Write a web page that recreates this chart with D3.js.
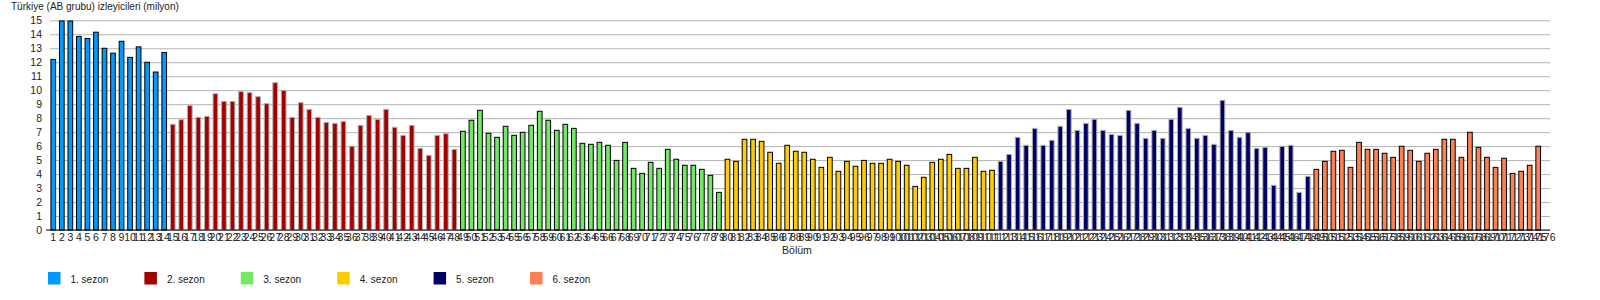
<!DOCTYPE html>
<html>
<head>
<meta charset="utf-8">
<script src="https://cdn.jsdelivr.net/npm/d3@7"></script>
<style>
    body { margin: 0; background: #fff; }
    text { font-family: "Liberation Sans", Arial, sans-serif; fill: #222; }
</style>
</head>
<body>
<div id="chart"></div>
<script>
// Viewers per episode (millions), one array per season
const season1 = [12.2, 14.95, 14.95, 13.85, 13.7, 14.15, 13.0, 12.65, 13.5, 12.35, 13.1, 12.0, 11.3, 12.7];
const season2 = [7.56, 7.89, 8.9, 8.06, 8.13, 9.75, 9.2, 9.2, 9.9, 9.83, 9.54, 9.04, 10.54, 9.99, 8.06, 9.11,
    8.63, 8.06, 7.7, 7.63, 7.77, 5.99, 7.49, 8.2, 7.92, 8.63, 7.35, 6.77, 7.49, 5.84, 5.34, 6.77, 6.89, 5.77];
const season3 = [7.06, 7.85, 8.56, 6.92, 6.63, 7.42, 6.77, 6.99, 7.49, 8.49, 7.85, 7.13, 7.56, 7.27, 6.2,
    6.13, 6.27, 6.06, 4.98, 6.27, 4.41, 4.05, 4.84, 4.41, 5.77, 5.06, 4.63, 4.63, 4.34, 3.91, 2.69];
const season4 = [5.06, 4.91, 6.49, 6.49, 6.34, 5.56, 4.77, 6.06, 5.63, 5.56, 5.06, 4.48, 5.2, 4.2, 4.91, 4.56, 4.98, 4.77, 4.77,
    5.06, 4.91, 4.63, 3.12, 3.77, 4.84, 5.06, 5.41, 4.41, 4.41, 5.2, 4.2, 4.27];
const season5 = [4.91, 5.41, 6.63, 6.06, 7.27, 6.06, 6.42, 7.42, 8.63, 7.13, 7.63, 7.92, 7.13, 6.84, 6.77, 8.56, 7.63, 6.56, 7.13, 6.56,
    7.92, 8.78, 7.27, 6.56, 6.77, 6.13, 9.28, 7.13, 6.63, 6.99, 5.84, 5.91, 3.2, 5.99, 6.06, 2.69, 3.84];
const season6 = [4.34, 4.91, 5.63, 5.7, 4.48, 6.27, 5.77, 5.77, 5.49, 5.2, 5.99, 5.7, 4.91, 5.49, 5.77, 6.49, 6.49, 5.2,
    6.99, 5.91, 5.2, 4.48, 5.13, 4.05, 4.2, 4.63, 5.99, null];

const seasonNames = ['1. sezon', '2. sezon', '3. sezon', '4. sezon', '5. sezon', '6. sezon'];
const seasonColors = ['#0099ff', '#a50000', '#72e865', '#ffcc00', '#000066', '#ff8050'];
const seasonStrokes = ['#000', '#b3b3b3', '#000', '#000', '#b3b3b3', '#000'];
const yTicks = d3.range(0, 16);

const title = 'Türkiye (AB grubu) izleyicileri (milyon)';
const xTitle = 'Bölüm';

// Flatten seasons into episodes
const seasons = [season1, season2, season3, season4, season5, season6];
const episodes = [];
seasons.forEach((vals, s) => {
    vals.forEach(v => episodes.push({ ep: episodes.length + 1, value: v, season: s }));
});

const config = { width: 1600, height: 300, left: 50, right: 1550, top: 20.3, bottom: 230 };

const svg = d3.select('#chart')
    .append('svg')
    .attr('width', config.width)
    .attr('height', config.height);

const x = d3.scaleBand()
    .domain(episodes.map(d => d.ep))
    .range([49, 1551])
    .paddingInner(0.45)
    .paddingOuter(0.225);

const y = d3.scaleLinear()
    .domain([0, 15])
    .range([config.bottom, config.top]);

// Grid + y axis
const yAxis = svg.append('g')
    .attr('transform', `translate(${config.left},0)`)
    .call(d3.axisLeft(y).tickValues(yTicks).tickSize(-(config.right - config.left)).tickPadding(8));
yAxis.select('.domain').remove();
yAxis.selectAll('line').attr('stroke', '#b3b3b3');
yAxis.selectAll('text').style('font-size', '10.5px').attr('fill', '#222');

// Bars
svg.append('g')
    .selectAll('rect')
    .data(episodes.filter(d => d.value != null))
    .join('rect')
    .attr('x', d => x(d.ep))
    .attr('y', d => y(d.value))
    .attr('width', x.bandwidth())
    .attr('height', d => y(0) - y(d.value))
    .attr('fill', d => seasonColors[d.season])
    .attr('stroke', d => seasonStrokes[d.season])
    .attr('stroke-width', 1);

// x axis
const xAxis = svg.append('g')
    .attr('transform', `translate(0,${config.bottom})`)
    .call(d3.axisBottom(x).tickSize(0).tickPadding(4));
xAxis.select('.domain').remove();
xAxis.selectAll('text').style('font-size', '10.5px').attr('fill', '#222');

svg.append('line')
    .attr('x1', 46).attr('x2', config.right)
    .attr('y1', config.bottom).attr('y2', config.bottom)
    .attr('stroke', '#000');

// Titles
svg.append('text')
    .attr('x', 11).attr('y', 10)
    .style('font-size', '10px')
    .text(title);

svg.append('text')
    .attr('x', 797).attr('y', 253.5)
    .attr('text-anchor', 'middle')
    .style('font-size', '10.5px')
    .text(xTitle);

// Legend
const legend = svg.append('g')
    .selectAll('g')
    .data(seasonNames)
    .join('g')
    .attr('transform', (d, i) => `translate(${48 + i * 96.4},272)`);

legend.append('rect')
    .attr('width', 12.5).attr('height', 12.5)
    .attr('fill', (d, i) => seasonColors[i]);

legend.append('text')
    .attr('x', 22.5).attr('y', 11)
    .style('font-size', '10px')
    .text(d => d);
</script>
</body>
</html>
